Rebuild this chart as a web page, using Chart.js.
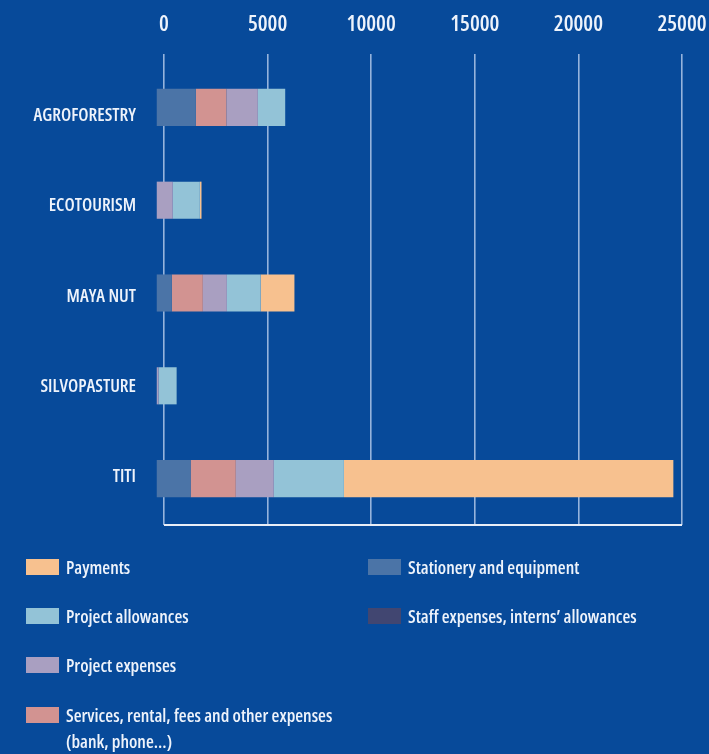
<!DOCTYPE html>
<html><head>
<meta charset="utf-8">
<script src="https://cdn.jsdelivr.net/npm/chart.js@4.4.1/dist/chart.umd.min.js"></script>
<style>
html,body{margin:0;padding:0;background:#074a9a;}
#wrap{position:relative;width:709px;height:754px;overflow:hidden;background:#074a9a;}
#chart{position:absolute;left:0;top:0;}
#legend{position:absolute;left:0;top:0;width:709px;height:754px;font-family:'Open Sans',sans-serif;font-stretch:75%;font-weight:600;font-size:18px;color:#eef3fb;}
.item{position:absolute;display:flex;align-items:flex-start;line-height:26px;}
.box{width:33px;height:16px;margin-top:5px;margin-right:7px;flex:none;}
.txt{width:292px;}
</style></head><body>
<div id="wrap"><canvas id="chart" width="709" height="754"></canvas><div id="legend"></div></div>
<script>
// ---- data ----
const categories = ['AGROFORESTRY', 'ECOTOURISM', 'MAYA NUT', 'SILVOPASTURE', 'TITI'];
const staffExpenses     = [0, 0, 0, 0, 0];
const stationery        = [1885, 0, 725, 0, 1633];
const services          = [1480, 0, 1500, 0, 2183];
const projectExpenses   = [1515, 775, 1160, 90, 1834];
const projectAllowances = [1320, 1305, 1630, 870, 3383];
const payments          = [0, 80, 1630, 0, 15900];
const xTickValues       = [0, 5000, 10000, 15000, 20000, 25000];

const seriesNames = [
  'Staff expenses, interns\u2019 allowances',
  'Stationery and equipment',
  'Services, rental, fees and other expenses (bank, phone...)',
  'Project expenses',
  'Project allowances',
  'Payments'
];
const seriesValues = [staffExpenses, stationery, services, projectExpenses, projectAllowances, payments];
const seriesColors = ['#414671', '#4b74a7', '#d29391', '#a99fc1', '#93c3d7', '#f7c18f'];

// ---- style ----
const textColor = '#eef3fb';
const gridColor = 'rgba(205,220,245,0.72)';
const barShift = 350;          // bars in the reference begin slightly left of the zero line
const labelMin = -0.609;       // category labels in the reference sit on a slightly tighter pitch than the bars
const labelMax = 4.532;

const datasets = seriesValues.map((vals, i) => ({
  label: seriesNames[i],
  data: vals,
  backgroundColor: seriesColors[i],
  borderWidth: 0,
  xAxisID: 'x',
  yAxisID: 'y',
  clip: false
}));

const xMax = xTickValues[xTickValues.length - 1];
const labelFont = { family: "'Open Sans', sans-serif", size: 18, weight: '600 ultra-condensed' };

const chart = new Chart(document.getElementById('chart'), {
  type: 'bar',
  data: { labels: categories, datasets },
  options: {
    indexAxis: 'y',
    responsive: false,
    animation: false,
    devicePixelRatio: 1,
    barPercentage: 0.4,
    categoryPercentage: 1,
    layout: { padding: { left: 0, right: 27, top: 0, bottom: 229 } },
    plugins: { legend: { display: false }, tooltip: { enabled: false }, title: { display: false } },
    scales: {
      x: {
        stacked: true,
        display: false,
        min: barShift,
        max: xMax + barShift
      },
      x2: {
        type: 'linear',
        position: 'top',
        min: xTickValues[0],
        max: xMax,
        afterBuildTicks: s => { s.ticks = xTickValues.map(v => ({ value: v })); },
        afterFit: s => { s.height = 61; s.paddingLeft = 0; s.paddingRight = 0; },
        border: { display: false },
        grid: { color: gridColor, lineWidth: 1.6, drawTicks: true, tickLength: 7, tickColor: gridColor },
        ticks: {
          color: textColor,
          padding: 16,
          callback: v => String(v),
          font: { family: "'Open Sans', sans-serif", size: 22, weight: '600 ultra-condensed' }
        }
      },
      y: {
        stacked: true,
        position: 'left',
        afterFit: s => { s.width = 0; },
        border: { display: false },
        grid: {
          drawTicks: false,
          lineWidth: 2,
          color: c => (c.index === undefined ? '#e9eef7' : 'rgba(0,0,0,0)')
        },
        ticks: { display: false }
      },
      yLabels: {
        type: 'linear',
        position: 'left',
        reverse: true,
        offset: false,
        min: labelMin,
        max: labelMax,
        afterBuildTicks: s => { s.ticks = categories.map((_, i) => ({ value: i })); },
        afterFit: s => { s.width = 164; },
        border: { display: false },
        grid: { display: false, drawTicks: false, offset: false },
        ticks: {
          color: textColor,
          padding: 28,
          callback: v => categories[v],
          font: labelFont
        }
      }
    }
  }
});

// ---- HTML legend, built from the chart's datasets ----
// [dataset index, column, row]
const legendLayout = [[5, 0, 0], [4, 0, 1], [3, 0, 2], [2, 0, 3], [1, 1, 0], [0, 1, 1]];
const colX = [26, 368];
const rowY = [567, 616, 665, 715];
const legendEl = document.getElementById('legend');
legendLayout.forEach(([di, col, row]) => {
  const ds = chart.data.datasets[di];
  const item = document.createElement('div');
  item.className = 'item';
  item.style.left = colX[col] + 'px';
  item.style.top = (rowY[row] - 13) + 'px';
  const box = document.createElement('span');
  box.className = 'box';
  box.style.background = ds.backgroundColor;
  const txt = document.createElement('span');
  txt.className = 'txt';
  txt.textContent = ds.label;
  item.appendChild(box);
  item.appendChild(txt);
  legendEl.appendChild(item);
});
</script>
</body></html>
